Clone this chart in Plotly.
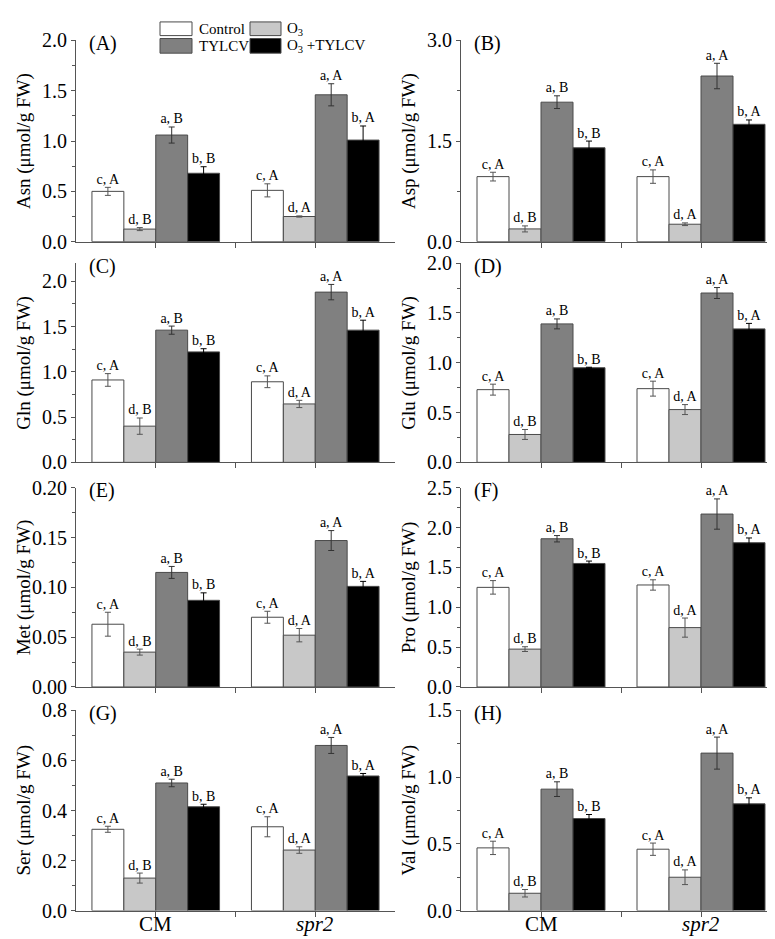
import plotly.graph_objects as go

W, H = 775, 939

genotypes = ["CM", "<i>spr2</i>"]
treatments = ["Control", "O<sub>3</sub>", "TYLCV", "O<sub>3</sub> +TYLCV"]
bar_colors = ["#ffffff", "#c8c8c8", "#808080", "#000000"]
err_colors = ["#555555", "#555555", "#333333", "#000000"]

# order: CM (Control, O3, TYLCV, O3+TYLCV), spr2 (Control, O3, TYLCV, O3+TYLCV)
sig_letters = ["c, A", "d, B", "a, B", "b, B", "c, A", "d, A", "a, A", "b, A"]

asn_mean = [0.50, 0.125, 1.06, 0.68, 0.51, 0.25, 1.46, 1.01]
asn_err = [0.04, 0.015, 0.08, 0.065, 0.065, 0.006, 0.11, 0.14]
asp_mean = [0.97, 0.19, 2.08, 1.40, 0.97, 0.26, 2.47, 1.75]
asp_err = [0.065, 0.045, 0.095, 0.10, 0.10, 0.02, 0.19, 0.065]
gln_mean = [0.91, 0.40, 1.46, 1.22, 0.89, 0.645, 1.88, 1.46]
gln_err = [0.07, 0.09, 0.045, 0.035, 0.065, 0.04, 0.085, 0.11]
glu_mean = [0.73, 0.28, 1.39, 0.95, 0.74, 0.53, 1.70, 1.34]
glu_err = [0.055, 0.05, 0.05, 0.005, 0.075, 0.05, 0.055, 0.055]
met_mean = [0.063, 0.035, 0.115, 0.087, 0.070, 0.052, 0.147, 0.101]
met_err = [0.012, 0.003, 0.006, 0.0075, 0.006, 0.0067, 0.010, 0.005]
pro_mean = [1.25, 0.475, 1.86, 1.55, 1.28, 0.745, 2.17, 1.81]
pro_err = [0.085, 0.03, 0.04, 0.03, 0.065, 0.12, 0.19, 0.06]
ser_mean = [0.325, 0.13, 0.51, 0.415, 0.335, 0.242, 0.66, 0.538]
ser_err = [0.012, 0.02, 0.015, 0.01, 0.04, 0.013, 0.032, 0.01]
val_mean = [0.47, 0.13, 0.91, 0.69, 0.46, 0.25, 1.18, 0.80]
val_err = [0.05, 0.028, 0.055, 0.03, 0.046, 0.055, 0.12, 0.045]

panel_letters = ["(A)", "(B)", "(C)", "(D)", "(E)", "(F)", "(G)", "(H)"]
y_titles = ["Asn (μmol/g FW)", "Asp (μmol/g FW)", "Gln (μmol/g FW)", "Glu (μmol/g FW)",
            "Met (μmol/g FW)", "Pro (μmol/g FW)", "Ser (μmol/g FW)", "Val (μmol/g FW)"]
y_ranges = [[0, 2.0], [0, 3.0], [0, 2.2], [0, 2.0], [0, 0.20], [0, 2.5], [0, 0.8], [0, 1.5]]
y_dticks = [0.5, 1.5, 0.5, 0.5, 0.05, 0.5, 0.2, 0.5]
y_formats = [".1f", ".1f", ".1f", ".1f", ".2f", ".1f", ".1f", ".1f"]

means = [asn_mean, asp_mean, gln_mean, glu_mean, met_mean, pro_mean, ser_mean, val_mean]
errs = [asn_err, asp_err, gln_err, glu_err, met_err, pro_err, ser_err, val_err]

FONT = "Liberation Serif"
AX = "#555555"

col_px = [(68, 387), (453, 773)]
row_px = [(22, 228), (250, 454), (480, 684), (708, 913)]

fig = go.Figure()
layout = dict(
    width=W, height=H, margin=dict(l=0, r=0, t=0, b=0),
    paper_bgcolor="white", plot_bgcolor="white",
    barmode="group", bargap=0.2, bargroupgap=0,
    showlegend=False, font=dict(family=FONT, color="black"),
)
annotations = []
shapes = []

group_x = [1, 2]
for p in range(8):
    r, c = divmod(p, 2)
    sfx = "" if p == 0 else str(p + 1)
    xa, ya = "x" + sfx, "y" + sfx
    m, e = means[p], errs[p]
    for t in range(4):
        vals = [m[t], m[4 + t]]
        ers = [e[t], e[4 + t]]
        fig.add_trace(go.Bar(
            x=group_x, y=vals, xaxis=xa, yaxis=ya, name=treatments[t],
            marker=dict(color=bar_colors[t], line=dict(color="#4a4a4a", width=1)),
            error_y=dict(type="data", array=ers, color=err_colors[t], thickness=1, width=3),
            offsetgroup=str(t), showlegend=False, hoverinfo="skip",
        ))
        fig.add_trace(go.Scatter(
            x=[g + (t - 1.5) * 0.2 for g in group_x],
            y=[vals[i] + ers[i] for i in range(2)],
            text=[sig_letters[t], sig_letters[4 + t]],
            mode="text", textposition="top center",
            textfont=dict(family=FONT, size=14, color="black"),
            xaxis=xa, yaxis=ya, showlegend=False, hoverinfo="skip", cliponaxis=False,
        ))
    x0, x1 = col_px[c]
    t0, t1 = row_px[r]
    bottom = r == 3
    layout["xaxis" + sfx] = dict(
        domain=[x0 / W, x1 / W], anchor=ya, range=[0.5, 2.5],
        tickmode="array", tickvals=[1, 1.5, 2],
        showticklabels=False, ticks="outside", ticklen=5, tickcolor=AX,
        showline=True, linecolor=AX, linewidth=1, showgrid=False, zeroline=False,
        fixedrange=True,
    )
    layout["yaxis" + sfx] = dict(
        domain=[1 - t1 / H, 1 - t0 / H], anchor=xa, range=y_ranges[p],
        tickmode="linear", tick0=0, dtick=y_dticks[p], tickformat=y_formats[p],
        ticks="outside", ticklen=4, tickcolor=AX,
        minor=dict(ticks="outside", ticklen=3, tickcolor=AX, dtick=y_dticks[p] / 2, tick0=0),
        showline=True, linecolor=AX, linewidth=1, showgrid=False, zeroline=False,
        tickfont=dict(family=FONT, size=20, color="black"), fixedrange=True,
    )
    annotations.append(dict(
        text=panel_letters[p], xref=xa + " domain", yref=ya + " domain",
        x=0.035, y=0.985, xanchor="left", yanchor="middle", showarrow=False,
        font=dict(family=FONT, size=20, color="black"),
    ))
    annotations.append(dict(
        text=y_titles[p], xref="paper", yref="paper",
        x=(16 if c == 0 else 401) / W, y=1 - (t0 + t1) / 2 / H,
        xanchor="center", yanchor="middle", textangle=-90, showarrow=False,
        font=dict(family=FONT, size=19, color="black"),
    ))
    if bottom:
        for gi, g in enumerate(group_x):
            annotations.append(dict(
                text=genotypes[gi], xref=xa, yref="paper",
                x=g, y=1 - 927 / H, xanchor="center", yanchor="middle",
                showarrow=False, font=dict(family=FONT, size=21, color="black"),
            ))

# legend drawn as boxes + text
leg_boxes = [(152, 184, 3, 17), (242, 273, 3, 17), (152, 184, 20, 35), (242, 273, 20, 35)]
leg_text_x = [189, 277, 189, 277]
for t in range(4):
    bx0, bx1, by0, by1 = leg_boxes[t]
    shapes.append(dict(
        type="rect", xref="paper", yref="paper",
        x0=bx0 / W, x1=bx1 / W, y0=1 - by1 / H, y1=1 - by0 / H,
        fillcolor=bar_colors[t], line=dict(color="#4a4a4a", width=1),
    ))
    annotations.append(dict(
        text=treatments[t], xref="paper", yref="paper",
        x=leg_text_x[t] / W, y=1 - (by0 + by1) / 2 / H,
        xanchor="left", yanchor="middle", showarrow=False,
        font=dict(family=FONT, size=15, color="black"),
    ))

layout["annotations"] = annotations
layout["shapes"] = shapes
fig.update_layout(**layout)
fig.write_html("out.html")
